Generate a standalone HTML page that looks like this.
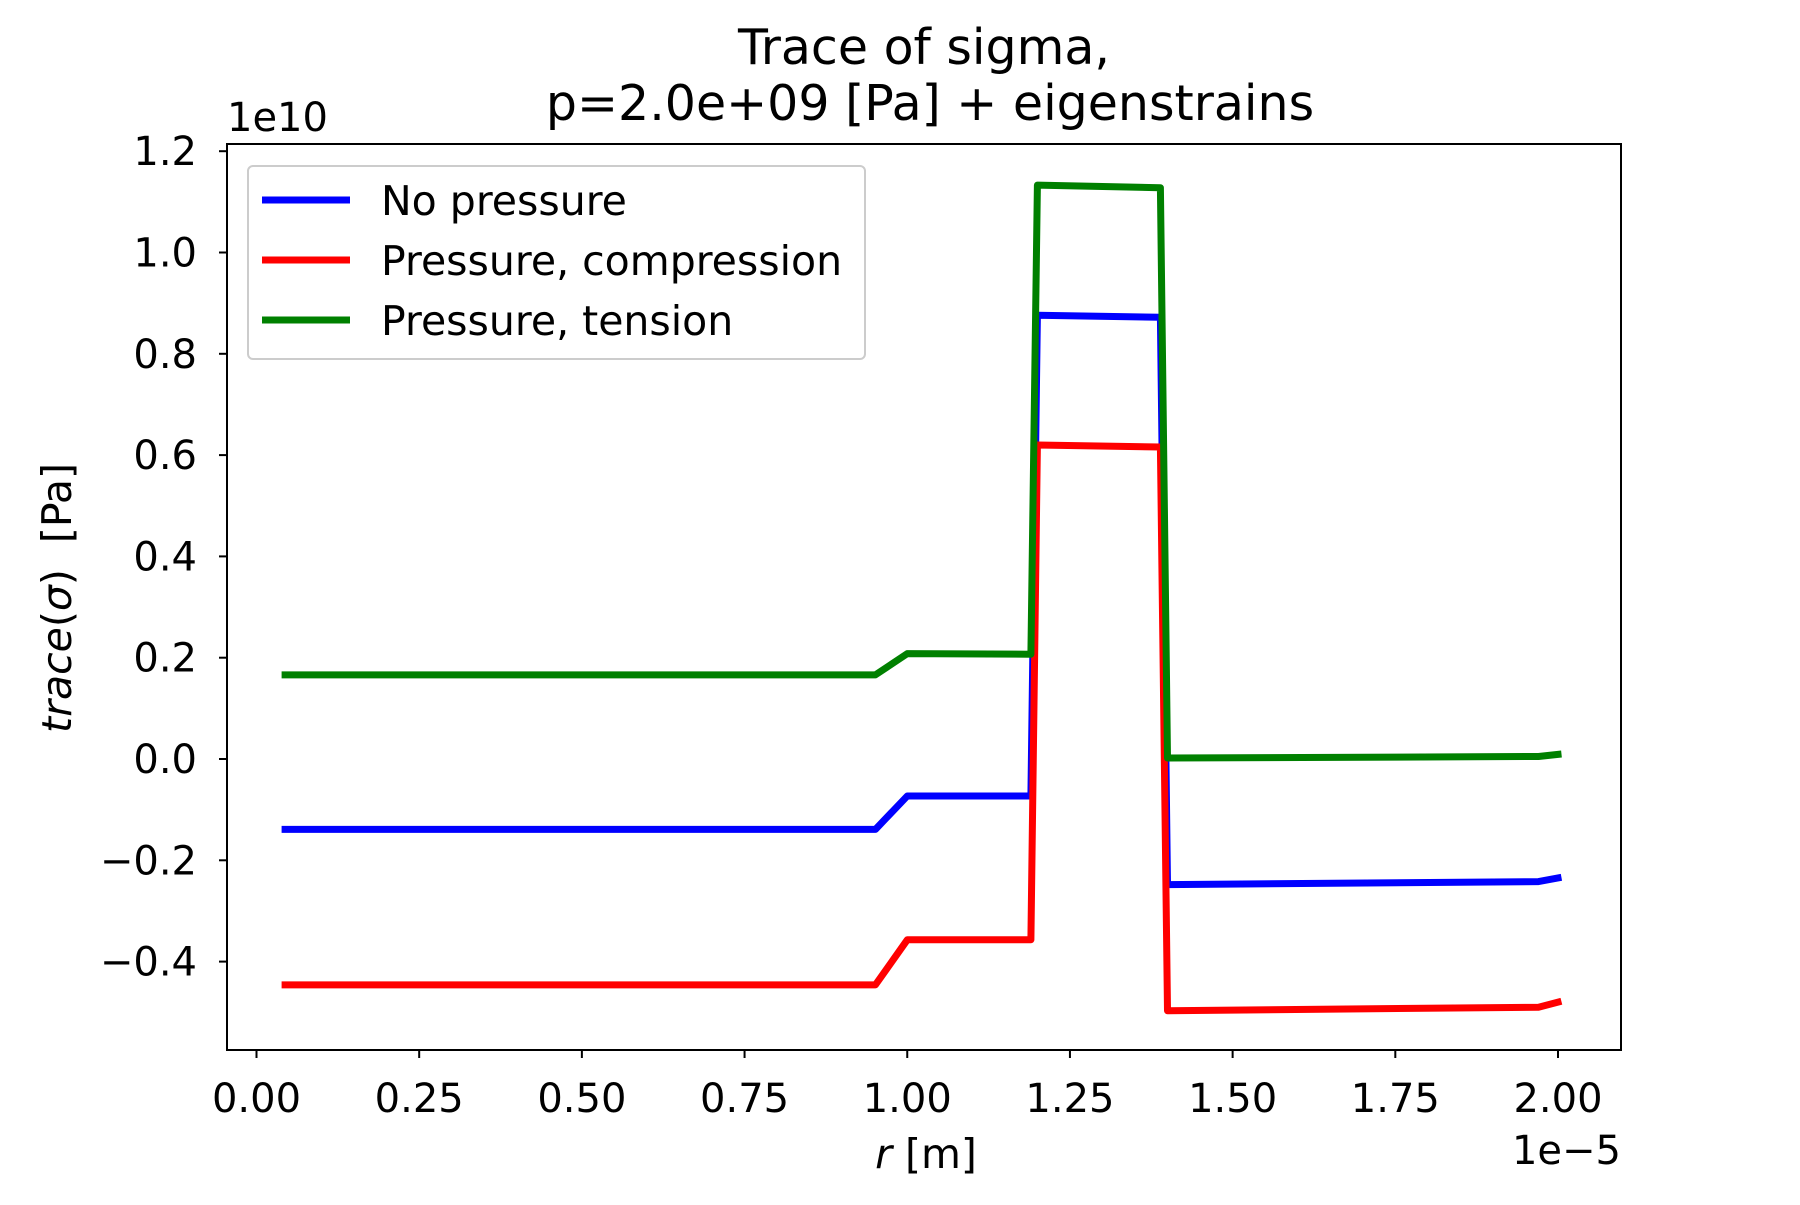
<!DOCTYPE html>
<html><head><meta charset="utf-8"><style>
body{margin:0;background:#fff;}
svg text{font-family:"DejaVu Sans","Liberation Sans",sans-serif;fill:#000;}
</style></head><body>
<svg id="chart" width="1800" height="1200" viewBox="0 0 1800 1200" xmlns="http://www.w3.org/2000/svg">
<rect width="1800" height="1200" fill="#fff"/>
<text x="924" y="64" font-size="49" text-anchor="middle">Trace of sigma,</text>
<text x="930" y="120" font-size="49" text-anchor="middle">p=2.0e+09 [Pa] + eigenstrains</text>
<text x="227" y="131" font-size="40">1e10</text>
<text x="1621" y="1164" font-size="40" text-anchor="end">1e−5</text>
<text x="926" y="1168" font-size="41" text-anchor="middle"><tspan font-style="italic">r</tspan> [m]</text>
<text transform="translate(71,598) rotate(-90)" font-size="41" text-anchor="middle" xml:space="preserve"><tspan font-style="italic">trace</tspan>(<tspan font-style="italic">σ</tspan>)  [Pa]</text>
<g id="ticks"></g>
<g id="series"></g>
<rect x="227" y="144" width="1394" height="906" fill="none" stroke="#000" stroke-width="2"/>
<g id="legend">
<rect x="248" y="166" width="617" height="193" rx="5" fill="#fff" fill-opacity="0.8" stroke="#ccc" stroke-width="2"/>
</g>
</svg>
<script>
const seriesNames = ["No pressure", "Pressure, compression", "Pressure, tension"];
const seriesColors = ["#0000ff", "#ff0000", "#008000"];
const xValues = [0.044, 0.951, 1.0, 1.19, 1.2, 1.389, 1.4, 1.97, 2.0];
const blueValues = [-0.139, -0.139, -0.073, -0.073, 0.876, 0.872, -0.248, -0.242, -0.235];
const redValues = [-0.446, -0.446, -0.357, -0.357, 0.62, 0.616, -0.497, -0.49, -0.48];
const greenValues = [0.166, 0.166, 0.208, 0.207, 1.133, 1.128, 0.002, 0.005, 0.009];
const xTicks = [0, 0.25, 0.5, 0.75, 1.0, 1.25, 1.5, 1.75, 2.0];
const xTickLabels = ["0.00","0.25","0.50","0.75","1.00","1.25","1.50","1.75","2.00"];
const yTicks = [-0.4, -0.2, 0, 0.2, 0.4, 0.6, 0.8, 1.0, 1.2];
const yTickLabels = ["−0.4","−0.2","0.0","0.2","0.4","0.6","0.8","1.0","1.2"];

const NS = "http://www.w3.org/2000/svg";
function xs(v){ return 256.5 + v * (1558 - 256.5) / 2; }
function ys(v){ return 759 - v * 506.5; }
function mk(tag, attrs, parent){ const e = document.createElementNS(NS, tag); for (const k in attrs) e.setAttribute(k, attrs[k]); parent.appendChild(e); return e; }

const ticks = document.getElementById('ticks');
xTicks.forEach((t, i) => {
  const l = mk('line', {x1: xs(t), x2: xs(t), y1: 1050, y2: 1058, stroke: '#000', 'stroke-width': 2}, ticks);
  
  
  const tx = mk('text', {x: xs(t), y: 1112, 'font-size': 40, 'text-anchor': 'middle'}, ticks);
  tx.textContent = xTickLabels[i];
  
  
});
yTicks.forEach((t, i) => {
  const l = mk('line', {x1: 219, x2: 227, y1: ys(t), y2: ys(t), stroke: '#000', 'stroke-width': 2}, ticks);
  
  
  const tx = mk('text', {x: 197, y: ys(t) + 14, 'font-size': 40, 'text-anchor': 'end'}, ticks);
  tx.textContent = yTickLabels[i];
  
  
});

const series = document.getElementById('series');
const allValues = [blueValues, redValues, greenValues];
const keys = ['no-pressure', 'pressure-compression', 'pressure-tension'];
allValues.forEach((vals, s) => {
  const pts = xValues.map((x, i) => xs(x).toFixed(1) + ',' + ys(vals[i]).toFixed(1)).join(' ');
  const p = mk('polyline', {points: pts, fill: 'none', stroke: seriesColors[s], 'stroke-width': 7, 'stroke-linejoin': 'round', 'stroke-linecap': 'square'}, series);
  
  
});

const legend = document.getElementById('legend');
seriesNames.forEach((n, s) => {
  const y = 200 + s * 60;
  const l = mk('line', {x1: 262, x2: 350, y1: y, y2: y, stroke: seriesColors[s], 'stroke-width': 7}, legend);
  
  
  const t = mk('text', {x: 381, y: y + 15, 'font-size': 41}, legend);
  t.textContent = n;
  
  
});
</script>
</body></html>
